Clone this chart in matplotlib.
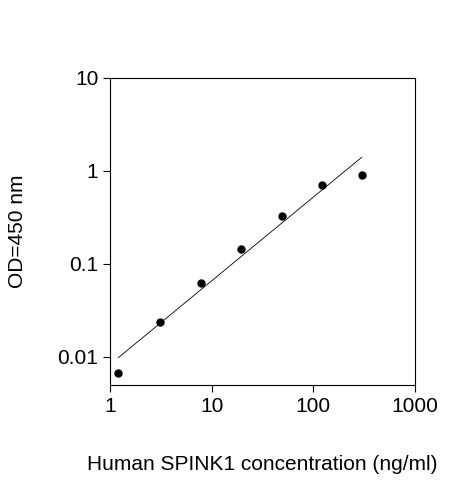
import matplotlib
matplotlib.use('Agg')
import matplotlib.pyplot as plt
from matplotlib.ticker import FixedLocator, NullLocator

plt.rcParams['font.family'] = ['Liberation Sans', 'DejaVu Sans']

conc = [1.2, 3.1, 7.8, 19.5, 48.8, 121, 300]
od = [0.0067, 0.024, 0.063, 0.145, 0.33, 0.70, 0.90]
fit_x = [1.2, 300]
fit_y = [0.0098, 1.4]

fig = plt.figure(figsize=(4.63, 4.8), dpi=100)
ax = fig.add_axes([0.238, 0.198, 0.658, 0.64])
ax.set_xscale('log')
ax.set_yscale('log')
ax.set_xlim(1, 1000)
ax.set_ylim(0.005, 10)

ax.plot(fit_x, fit_y, color='black', lw=0.6)
ax.plot(conc, od, 'o', color='black', ms=5)

ax.xaxis.set_major_locator(FixedLocator([1, 10, 100, 1000]))
ax.yaxis.set_major_locator(FixedLocator([0.01, 0.1, 1, 10]))
ax.xaxis.set_minor_locator(NullLocator())
ax.yaxis.set_minor_locator(NullLocator())
ax.set_xticklabels(['1', '10', '100', '1000'])
ax.set_yticklabels(['0.01', '0.1', '1', '10'])
ax.tick_params(direction='out', labelsize=15, length=5)

ax.set_xlabel('Human SPINK1 concentration (ng/ml)', fontsize=15, labelpad=28)
ax.set_ylabel('OD=450 nm', fontsize=15, labelpad=22)

fig.savefig('out.png', dpi=100)
